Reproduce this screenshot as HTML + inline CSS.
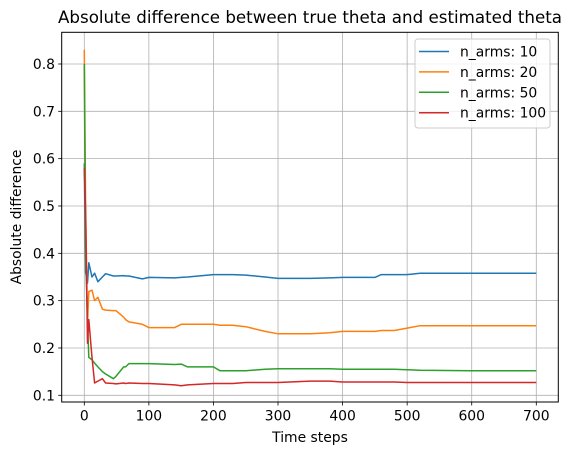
<!DOCTYPE html>
<html><head><meta charset="utf-8"><style>
body{margin:0;background:#fff;}
svg{display:block;font-family:"DejaVu Sans","Liberation Sans",sans-serif;}
</style></head><body>
<svg id="chart" width="570" height="455" viewBox="0 0 570 455">
<text x="310" y="23" text-anchor="middle" font-size="16.7" fill="#000">Absolute difference between true theta and estimated theta</text>
<g id="grid"></g>
<g id="series"></g>
<rect x="61.7" y="32.3" width="496.6" height="369.7" fill="none" stroke="#000" stroke-width="1"/>
<g id="xticks"></g>
<g id="yticks"></g>
<text x="310" y="442" text-anchor="middle" font-size="13.9">Time steps</text>
<text transform="translate(21,217) rotate(-90)" text-anchor="middle" font-size="13.9">Absolute difference</text>
<g id="legend"></g>
</svg>
<script>
const xTicks=[0,100,200,300,400,500,600,700];
const yTicks=[0.1,0.2,0.3,0.4,0.5,0.6,0.7,0.8];
const seriesNames=["n_arms: 10","n_arms: 20","n_arms: 50","n_arms: 100"];
const seriesColors=["#1f77b4","#ff7f0e","#2ca02c","#d62728"];
const tSteps=[0,2,5,7,12,16,21,28,33,45,49,61,64,69,90,100,140,150,160,200,210,230,250,280,300,350,380,400,450,460,480,500,520,600,700];
const arms10=[0.59,0.36,0.337,0.38,0.35,0.358,0.34,0.35,0.357,0.352,0.352,0.353,0.352,0.352,0.346,0.349,0.348,0.349,0.35,0.355,0.355,0.355,0.354,0.35,0.347,0.347,0.348,0.349,0.349,0.355,0.355,0.355,0.358,0.358,0.358];
const arms20=[0.83,0.5,0.25,0.319,0.322,0.30,0.307,0.282,0.28,0.279,0.279,0.265,0.26,0.255,0.25,0.243,0.243,0.25,0.25,0.25,0.248,0.248,0.245,0.235,0.23,0.23,0.232,0.235,0.235,0.237,0.237,0.242,0.247,0.247,0.247];
const arms50=[0.80,0.40,0.259,0.18,0.175,0.168,0.16,0.15,0.145,0.135,0.14,0.16,0.16,0.167,0.167,0.167,0.165,0.166,0.16,0.16,0.152,0.152,0.152,0.155,0.156,0.156,0.156,0.155,0.155,0.155,0.155,0.154,0.153,0.152,0.152];
const arms100=[0.58,0.49,0.21,0.26,0.18,0.126,0.13,0.135,0.126,0.125,0.124,0.126,0.125,0.126,0.125,0.125,0.122,0.12,0.122,0.125,0.125,0.125,0.127,0.127,0.127,0.13,0.13,0.128,0.128,0.128,0.128,0.127,0.127,0.127,0.127];
const allSeries=[arms10,arms20,arms50,arms100];
const NS="http://www.w3.org/2000/svg";
function xs(t){return 84.3+t*0.6457;}
function ys(v){return 395.3-(v-0.1)*473.3;}
function mk(tag,attrs,parent){const e=document.createElementNS(NS,tag);for(const k in attrs)e.setAttribute(k,attrs[k]);parent.appendChild(e);return e;}
const grid=document.getElementById('grid'),xg=document.getElementById('xticks'),yg=document.getElementById('yticks');
xTicks.forEach(t=>{const x=xs(t);
 const g=mk('line',{x1:x,x2:x,y1:32.3,y2:402,stroke:'#b0b0b0','stroke-width':0.8},grid);
 
 
 const tk=mk('line',{x1:x,x2:x,y1:402,y2:405.5,stroke:'#000','stroke-width':0.8},xg);
 
 
 const l=mk('text',{x:x,y:420.5,'text-anchor':'middle','font-size':13.9},xg);l.textContent=t;
 
 
});
yTicks.forEach(v=>{const y=ys(v);
 const g=mk('line',{x1:61.7,x2:558.3,y1:y,y2:y,stroke:'#b0b0b0','stroke-width':0.8},grid);
 
 
 const tk=mk('line',{x1:58.2,x2:61.7,y1:y,y2:y,stroke:'#000','stroke-width':0.8},yg);
 
 
 const l=mk('text',{x:55,y:y+5,'text-anchor':'end','font-size':13.9},yg);l.textContent=v.toFixed(1);
 
 
});
const sg=document.getElementById('series');
allSeries.forEach((vals,i)=>{
 const d=vals.map((v,j)=>(j?'L':'M')+xs(tSteps[j]).toFixed(1)+','+ys(v).toFixed(1)).join('');
 const p=mk('path',{d:d,fill:'none',stroke:seriesColors[i],'stroke-width':1.5,'stroke-linejoin':'round'},sg);
 
 
});
const lg=document.getElementById('legend');
const box=mk('rect',{x:415,y:39,width:135,height:89,rx:3,fill:'#fff','fill-opacity':0.8,stroke:'#ccc','stroke-width':1},lg);


seriesNames.forEach((n,i)=>{const y=51.5+i*20.4;
 const ln=mk('line',{x1:419,x2:449,y1:y,y2:y,stroke:seriesColors[i],'stroke-width':1.5},lg);
 
 
 const t=mk('text',{x:460,y:y+5,'font-size':13.9},lg);t.textContent=n;
 
 
});
</script>
</body></html>
